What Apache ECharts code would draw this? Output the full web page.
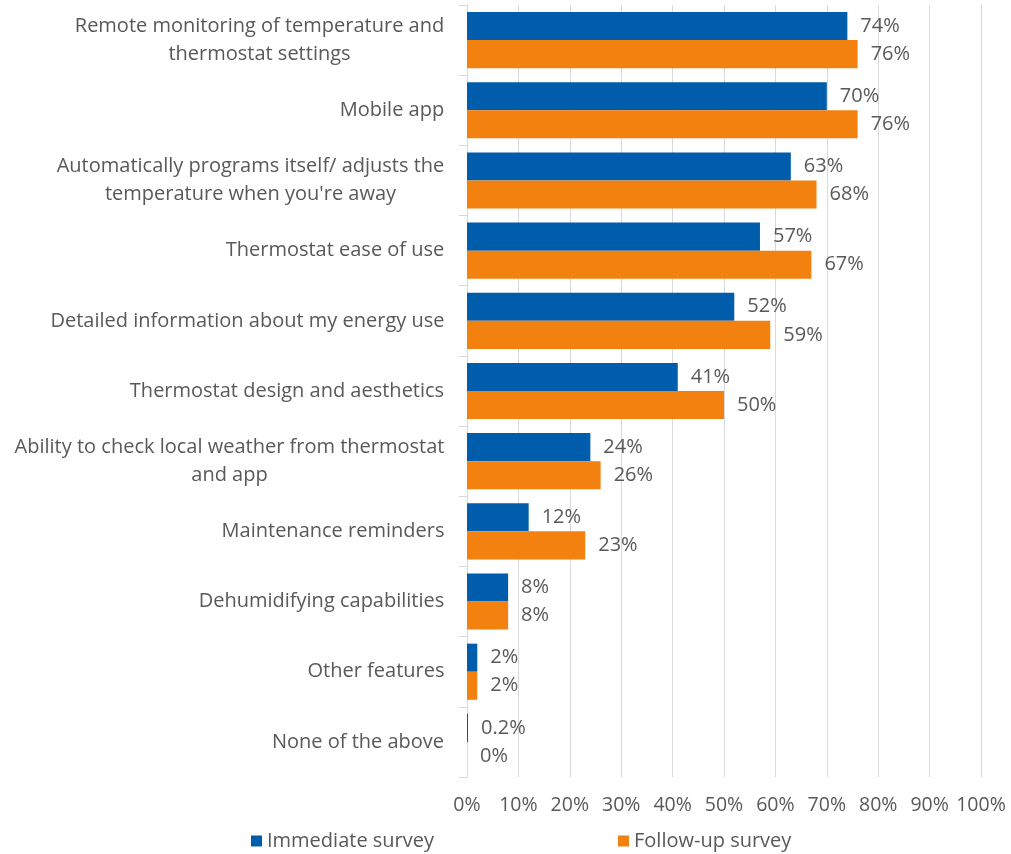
<!DOCTYPE html>
<html>
<head>
<meta charset="utf-8">
<script src="https://cdn.jsdelivr.net/npm/echarts@6/dist/echarts.min.js"></script>
<style>
  html, body { margin: 0; padding: 0; background: #fff; }
  #chart { width: 1011px; height: 854px; }
</style>
</head>
<body>
<div id="chart"></div>
<script>
// Thermostat features respondents valued, share of respondents (%)
const categories = [
  'Remote monitoring of temperature and\nthermostat settings',
  'Mobile app',
  'Automatically programs itself/ adjusts the\ntemperature when you\'re away',
  'Thermostat ease of use',
  'Detailed information about my energy use',
  'Thermostat design and aesthetics',
  'Ability to check local weather from thermostat\nand app',
  'Maintenance reminders',
  'Dehumidifying capabilities',
  'Other features',
  'None of the above'
];
const immediateSurvey = [74, 70, 63, 57, 52, 41, 24, 12, 8, 2, 0.2];
const followUpSurvey = [76, 76, 68, 67, 59, 50, 26, 23, 8, 2, 0];
const seriesNames = ['Immediate survey', 'Follow-up survey'];

const FONT = '"Open Sans", "Liberation Sans", sans-serif';
const TEXT = '#595959';
const LABEL_SIZE = 20;

// Multi-line category names: each line is centred within the label block,
// and the block itself sits right-aligned against the axis.
const measureCtx = document.createElement('canvas').getContext('2d');
measureCtx.font = LABEL_SIZE + 'px ' + FONT;
const blockRich = {};
categories.forEach((name, i) => {
  const w = Math.max(...name.split('\n').map(s => measureCtx.measureText(s).width));
  blockRich['c' + i] = {
    width: Math.ceil(w) + 1,
    align: 'center',
    color: TEXT,
    fontFamily: FONT,
    fontSize: LABEL_SIZE,
    lineHeight: 28
  };
});

const chart = echarts.init(document.getElementById('chart'), null, { renderer: 'canvas' });

const labelStyle = {
  show: true,
  position: 'right',
  distance: 13,
  color: TEXT,
  fontFamily: FONT,
  fontSize: LABEL_SIZE,
  formatter: p => p.value + '%'
};

chart.setOption({
  animation: false,
  backgroundColor: '#fff',
  grid: { left: 467, right: 30, top: 5, bottom: 77, containLabel: false },
  legend: {
    data: seriesNames,
    top: 826,
    left: 246,
    itemGap: 184,
    itemWidth: 11,
    itemHeight: 11,
    icon: 'rect',
    textStyle: { color: TEXT, fontFamily: FONT, fontSize: LABEL_SIZE }
  },
  xAxis: {
    type: 'value',
    min: 0,
    max: 100,
    interval: 10,
    axisLine: { show: false },
    axisTick: { show: false },
    splitLine: { lineStyle: { color: '#d9d9d9', width: 1 } },
    axisLabel: {
      formatter: '{value}%',
      color: TEXT,
      fontFamily: FONT,
      fontSize: 19.5,
      margin: 18
    }
  },
  yAxis: {
    type: 'category',
    data: categories,
    inverse: true,
    axisLine: { show: true, lineStyle: { color: '#d9d9d9', width: 1 } },
    axisTick: { show: true, length: 8, lineStyle: { color: '#d9d9d9' } },
    axisLabel: {
      color: TEXT,
      fontFamily: FONT,
      fontSize: LABEL_SIZE,
      lineHeight: 28,
      align: 'right',
      margin: 22,
      formatter: (value, index) =>
        value.split('\n').map(line => '{c' + index + '|' + line + '}').join('\n'),
      rich: blockRich
    }
  },
  series: [
    {
      name: seriesNames[0],
      type: 'bar',
      data: immediateSurvey,
      barGap: '0%',
      barCategoryGap: '20%',
      itemStyle: { color: '#005dab' },
      label: labelStyle
    },
    {
      name: seriesNames[1],
      type: 'bar',
      data: followUpSurvey,
      barGap: '0%',
      barCategoryGap: '20%',
      itemStyle: { color: '#f28110' },
      label: labelStyle
    }
  ]
});
</script>
</body>
</html>
